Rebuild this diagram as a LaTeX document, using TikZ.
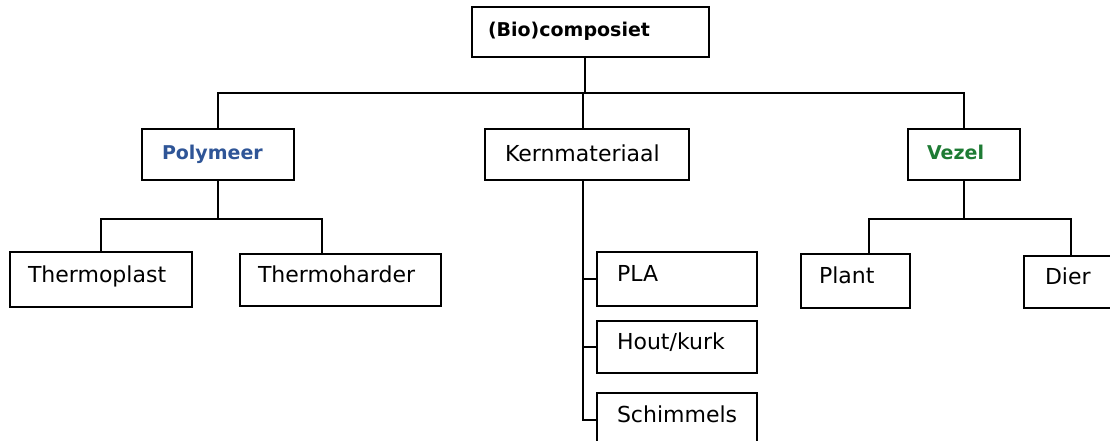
\documentclass[tikz,border=0pt]{standalone}
\usepackage{fontspec}
\setmainfont{DejaVu Sans}
\definecolor{polyblue}{HTML}{2F5597}
\definecolor{vezelgreen}{HTML}{1E7B34}
\begin{document}
\begin{tikzpicture}[x=1pt,y=-1pt,
  box/.style={draw, line width=2pt, align=left, inner ysep=0pt},
  reg/.style={box, font=\fontsize{22}{26}\selectfont, text height=17pt, text depth=12pt},
  hd/.style={box, font=\fontsize{19}{23}\selectfont\bfseries, text height=14pt, text depth=5pt},
  conn/.style={line width=2pt}]
\useasboundingbox (0,0) rectangle (1110,441);
\clip (0,0) rectangle (1110,441);
\fill[white] (0,0) rectangle (1110,441);
% level 0
\node[hd, minimum height=50pt, text width=205pt, inner xsep=16pt] (bio) at (590.5,32) {(Bio)composiet};
% level 1
\node[hd, minimum height=51pt, text width=112pt, inner xsep=20pt, text=polyblue] (poly) at (218,154.5) {Polymeer};
\node[reg, minimum height=51pt, text width=164pt, inner xsep=20pt, text height=16pt, text depth=3pt] (kern) at (587,154.5) {Kernmateriaal};
\node[hd, minimum height=51pt, text width=74pt, inner xsep=19pt, text=vezelgreen] (vezel) at (964,154.5) {Vezel};
% level 2
\node[reg, minimum height=55pt, text width=146pt, inner xsep=18pt] (tplast) at (101,279.5) {Thermoplast};
\node[reg, minimum height=52pt, text width=165pt, inner xsep=18pt] (tharder) at (340.5,280) {Thermoharder};
\node[reg, minimum height=54pt, text width=120pt, inner xsep=20pt] (pla) at (677,279) {PLA};
\node[reg, minimum height=52pt, text width=120pt, inner xsep=20pt] (hout) at (677,347) {Hout/kurk};
\node[reg, minimum height=54pt, text width=120pt, inner xsep=20pt] (schim) at (677,420) {Schimmels};
\node[reg, minimum height=54pt, text width=73pt, inner xsep=18pt] (plant) at (855.5,281) {Plant};
\node[reg, minimum height=52pt, text width=64pt, inner xsep=21pt] (dier) at (1077,282) {Dier};
% connectors top
\draw[conn] ([xshift=-5.5pt]bio.south) -- ++(0,35) coordinate (bus);
\draw[conn] (bus) -| (poly.north);
\draw[conn] (bus) -| (vezel.north);
\draw[conn] (bus) -| ([xshift=-4pt]kern.north);
% polymeer
\draw[conn] (poly.south) -- ++(0,38) coordinate (pj);
\draw[conn] (pj) -| (tplast.north);
\draw[conn] (pj) -| ([xshift=-18.5pt]tharder.north);
% kernmateriaal
\coordinate (ks) at ([xshift=-4pt]kern.south);
\draw[conn] (ks) -- (ks |- schim.west) -- (schim.west);
\draw[conn] (ks |- pla.west) -- (pla.west);
\draw[conn] (ks |- hout.west) -- (hout.west);
% vezel
\draw[conn] (vezel.south) -- ++(0,38) coordinate (vj);
\draw[conn] (vj) -| ([xshift=13.5pt]plant.north);
\draw[conn] (vj) -| ([xshift=-6pt]dier.north);
\end{tikzpicture}
\end{document}
